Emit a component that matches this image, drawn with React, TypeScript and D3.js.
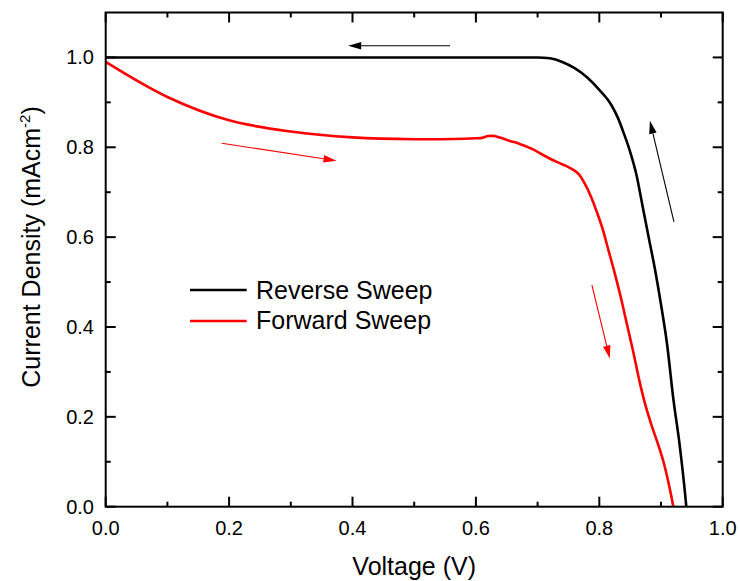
import React from "react";
import * as d3 from "d3";

const reverseV = [0, 0.1, 0.2, 0.3, 0.4, 0.5, 0.6, 0.7, 0.72, 0.74, 0.76, 0.78, 0.8, 0.82, 0.83, 0.84, 0.85, 0.86, 0.87, 0.88, 0.89, 0.9, 0.91, 0.92, 0.93, 0.94, 0.941];
const reverseJ = [1, 1, 1, 1, 1, 1, 1, 1, 0.998, 0.99, 0.976, 0.956, 0.928, 0.893, 0.866, 0.83, 0.79, 0.74, 0.67, 0.6, 0.53, 0.45, 0.36, 0.24, 0.14, 0.015, 0];

const forwardV = [0, 0.1, 0.2, 0.3, 0.4, 0.5, 0.6, 0.61, 0.62, 0.63, 0.64, 0.655, 0.67, 0.69, 0.71, 0.73, 0.75, 0.76, 0.768, 0.776, 0.785, 0.795, 0.805, 0.815, 0.825, 0.835, 0.845, 0.855, 0.865, 0.875, 0.885, 0.895, 0.905, 0.915, 0.92];
const forwardJ = [0.99, 0.912, 0.86, 0.835, 0.822, 0.818, 0.82, 0.821, 0.825, 0.825, 0.821, 0.814, 0.808, 0.797, 0.782, 0.768, 0.756, 0.748, 0.738, 0.72, 0.695, 0.66, 0.62, 0.57, 0.52, 0.465, 0.405, 0.345, 0.28, 0.225, 0.18, 0.14, 0.095, 0.035, 0];

const seriesNames = ["Reverse Sweep", "Forward Sweep"];
const seriesColors = ["#000000", "#ff0000"];

const xTicks = [0, 0.2, 0.4, 0.6, 0.8, 1.0];
const xMinor = [0.1, 0.3, 0.5, 0.7, 0.9];
const yTicks = [0, 0.2, 0.4, 0.6, 0.8, 1.0];
const yMinor = [0.1, 0.3, 0.5, 0.7, 0.9];

// arrows: start and tip in data units
const arrowStarts = [[0.558, 1.026], [0.921, 0.634], [0.188, 0.809], [0.788, 0.493]];
const arrowTips = [[0.393, 1.026], [0.882, 0.859], [0.374, 0.77], [0.817, 0.33]];
const arrowColors = ["#000000", "#000000", "#ff0000", "#ff0000"];

const FONT = "Arial, 'Liberation Sans', sans-serif";

export default function App() {
  const W = 740, H = 581;
  const x = d3.scaleLinear().domain([0, 1]).range([105.7, 722.7]);
  const y = d3.scaleLinear().domain([0, 1.1]).range([506.7, 12.5]);
  const [x0, x1] = x.range();
  const [y0, y1] = y.range();

  const smooth = d3.line<[number, number]>().x(d => x(d[0])).y(d => y(d[1])).curve(d3.curveMonotoneX);
  const straight = d3.line<[number, number]>().x(d => x(d[0])).y(d => y(d[1])).curve(d3.curveCatmullRom.alpha(0.5));
  const rev = reverseV.map((v, i) => [v, reverseJ[i]] as [number, number]);
  const fwd = forwardV.map((v, i) => [v, forwardJ[i]] as [number, number]);

  const major = 10, minor = 5;

  const arrow = (i: number) => {
    const [ax, ay] = arrowStarts[i];
    const [bx, by] = arrowTips[i];
    const sx = x(ax), sy = y(ay), tx = x(bx), ty = y(by);
    const dx = tx - sx, dy = ty - sy;
    const len = Math.hypot(dx, dy);
    const ux = dx / len, uy = dy / len;
    const hl = 13, hw = 3.8;
    const bxp = tx - ux * hl, byp = ty - uy * hl;
    const p1 = [bxp - uy * hw, byp + ux * hw];
    const p2 = [bxp + uy * hw, byp - ux * hw];
    return (
      <g key={"a" + i}>
        <line x1={sx} y1={sy} x2={bxp} y2={byp} stroke={arrowColors[i]} strokeWidth={1.1} />
        <path d={`M${tx},${ty}L${p1[0]},${p1[1]}L${p2[0]},${p2[1]}Z`} fill={arrowColors[i]} />
      </g>
    );
  };

  return (
    <svg width={W} height={H} style={{ position: "absolute", left: 0, top: 0, background: "#fff" }} fontFamily={FONT}>
      <rect x={0} y={0} width={W} height={H} fill="#fff" />
      <path d={smooth(rev) || ""} fill="none" stroke={seriesColors[0]} strokeWidth={2.6} strokeLinejoin="round" />
      <path d={straight(fwd) || ""} fill="none" stroke={seriesColors[1]} strokeWidth={2.6} strokeLinejoin="round" />
      {arrowStarts.map((_, i) => arrow(i))}
      {xTicks.map(t => (
        <g key={"xt" + t}>
          <line x1={x(t)} x2={x(t)} y1={y0} y2={y0 - major} stroke="#000" strokeWidth={2} />
          <line x1={x(t)} x2={x(t)} y1={y1} y2={y1 + major} stroke="#000" strokeWidth={2} />
          <text x={x(t)} y={535} textAnchor="middle" fontSize={20} fill="#000">{t.toFixed(1)}</text>
        </g>
      ))}
      {xMinor.map(t => (
        <g key={"xm" + t}>
          <line x1={x(t)} x2={x(t)} y1={y0} y2={y0 - minor} stroke="#000" strokeWidth={2} />
          <line x1={x(t)} x2={x(t)} y1={y1} y2={y1 + minor} stroke="#000" strokeWidth={2} />
        </g>
      ))}
      {yTicks.map(t => (
        <g key={"yt" + t}>
          <line x1={x0} x2={x0 + major} y1={y(t)} y2={y(t)} stroke="#000" strokeWidth={2} />
          <line x1={x1} x2={x1 - major} y1={y(t)} y2={y(t)} stroke="#000" strokeWidth={2} />
          <text x={94} y={y(t) + 7} textAnchor="end" fontSize={20} fill="#000">{t.toFixed(1)}</text>
        </g>
      ))}
      {yMinor.map(t => (
        <g key={"ym" + t}>
          <line x1={x0} x2={x0 + minor} y1={y(t)} y2={y(t)} stroke="#000" strokeWidth={2} />
          <line x1={x1} x2={x1 - minor} y1={y(t)} y2={y(t)} stroke="#000" strokeWidth={2} />
        </g>
      ))}
      <rect x={x0} y={y1} width={x1 - x0} height={y0 - y1} fill="none" stroke="#000" strokeWidth={2} />
      <text x={(x0 + x1) / 2} y={575} textAnchor="middle" fontSize={25} fill="#000">Voltage (V)</text>
      <text transform={`translate(40,${247}) rotate(-90)`} textAnchor="middle" fontSize={25} fill="#000">
        Current Density (mAcm<tspan fontSize={15} dy={-10}>-2</tspan><tspan dy={10}>)</tspan>
      </text>
      {seriesNames.map((n, i) => (
        <g key={n}>
          <line x1={190} x2={246.7} y1={290 + i * 31} y2={290 + i * 31} stroke={seriesColors[i]} strokeWidth={2.6} />
          <text x={256} y={299 + i * 30} fontSize={25} fill="#000">{n}</text>
        </g>
      ))}
    </svg>
  );
}
